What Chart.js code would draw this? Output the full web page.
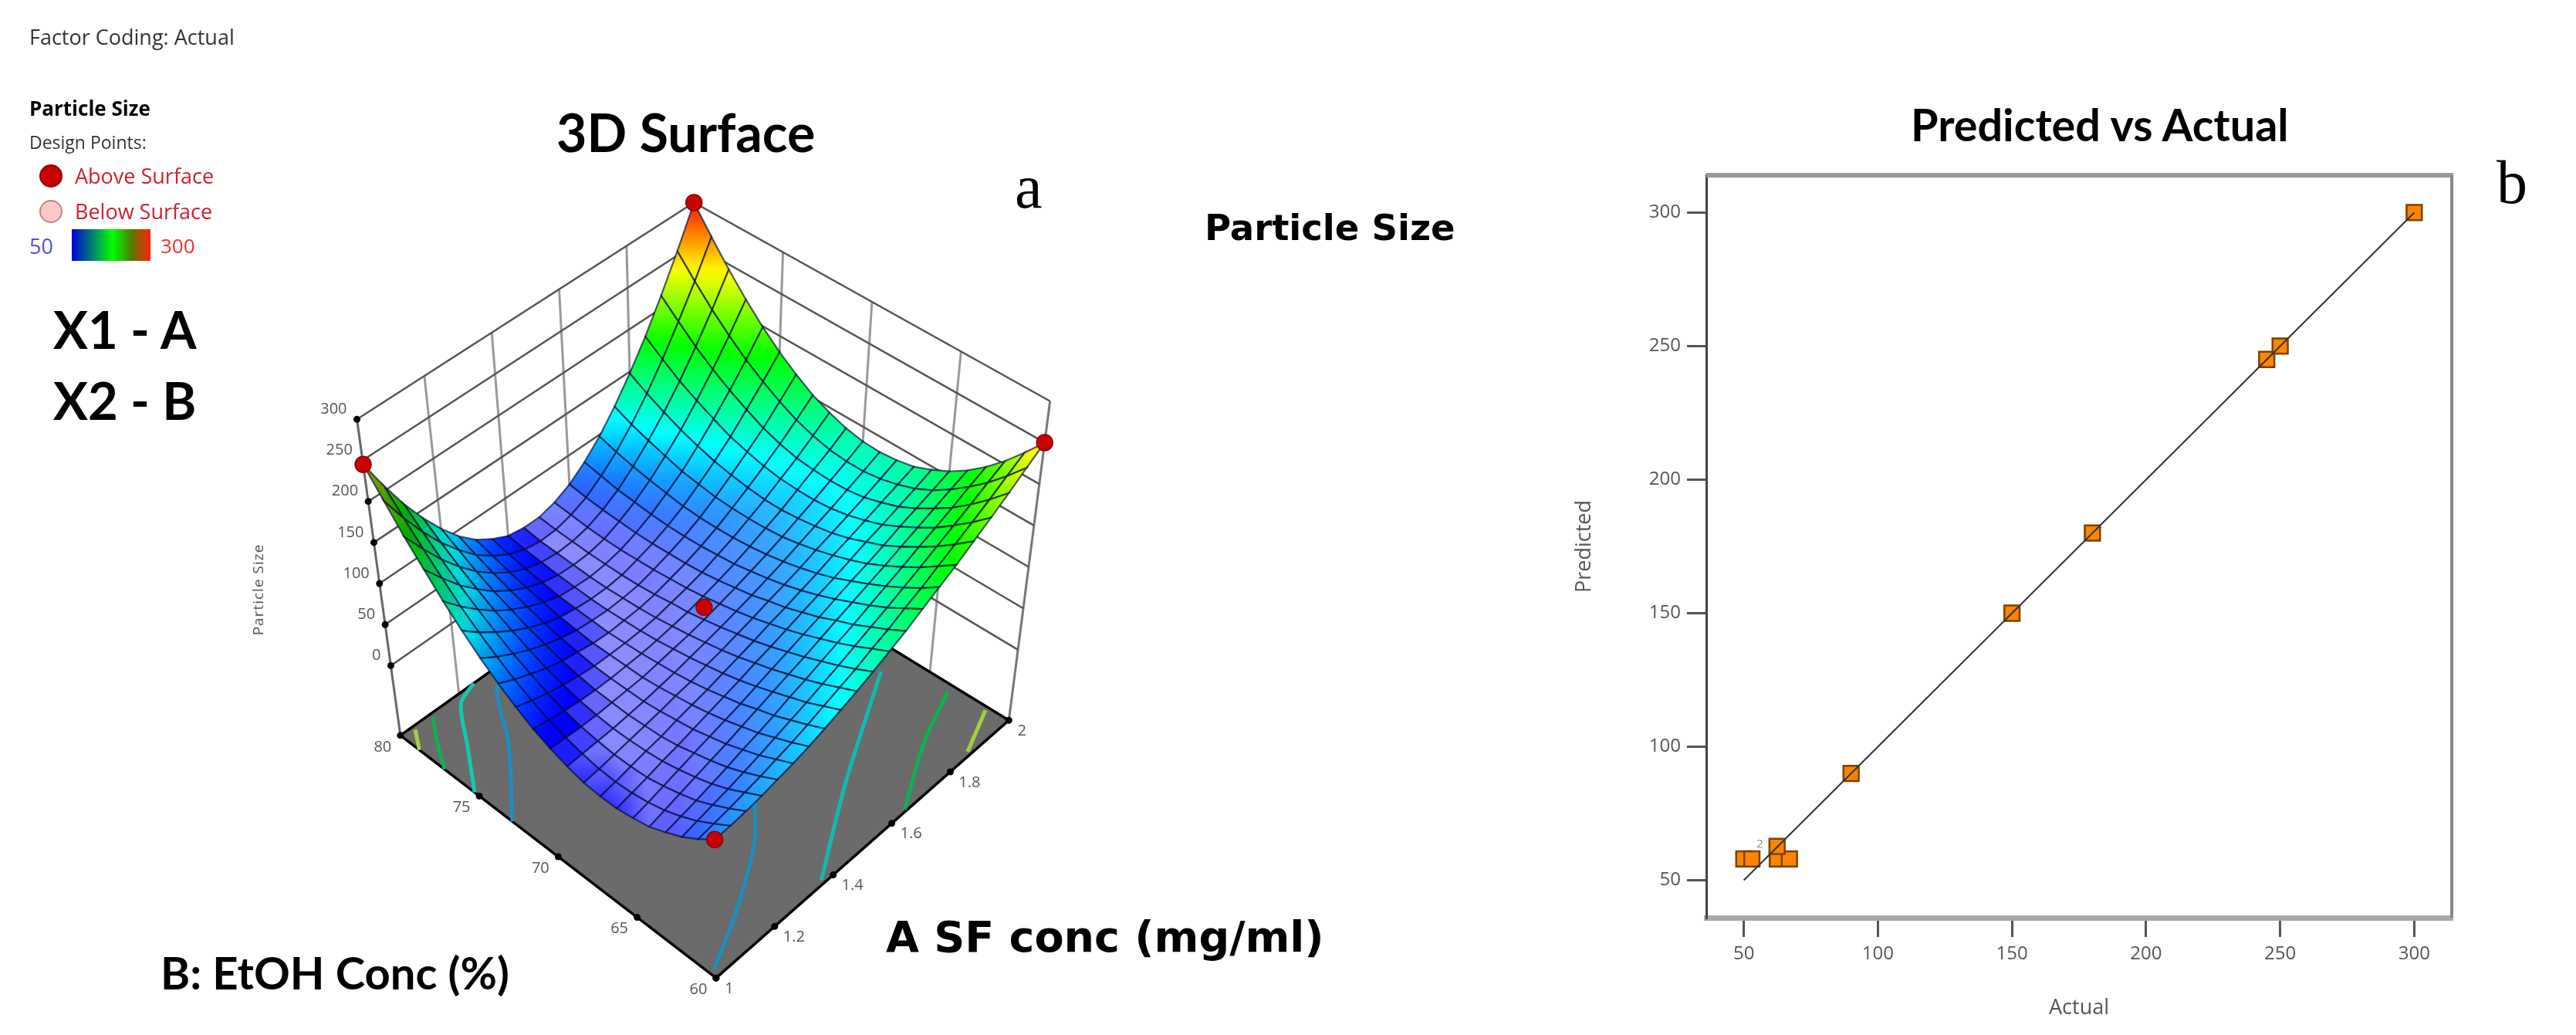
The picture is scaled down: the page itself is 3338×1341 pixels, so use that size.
<!DOCTYPE html>
<html>
<head>
<meta charset="utf-8">
<title>Particle Size</title>
<script src="https://cdn.jsdelivr.net/npm/chart.js"></script>
<style>
html, body { margin: 0; padding: 0; background: #fff; }
body { position: relative; width: 3338px; height: 1341px; overflow: hidden; }
canvas { position: absolute; }
.t { position: absolute; line-height: 1; white-space: nowrap; color: #000; }
.small { font-family: "Open Sans", sans-serif; font-size: 24px; color: #333; }
.big { font-family: Lato, sans-serif; font-weight: 700; }
.wide { font-family: "DejaVu Sans", sans-serif; font-weight: 700; }
.serif { font-family: "Liberation Serif", serif; font-size: 80px; }
.dot { position: absolute; width: 30px; height: 30px; border-radius: 50%; box-sizing: border-box; }
</style>
</head>
<body>
<canvas id="surfaceChart" width="2000" height="1341" style="left:0;top:0;width:2000px;height:1341px"></canvas>
<canvas id="parityChart" width="1200" height="1130" style="left:2030px;top:200px;width:1200px;height:1130px"></canvas>

<div class="t small" style="left:38px;top:34px;font-size:27px">Factor Coding: Actual</div>
<div class="t small" style="left:38px;top:127px;font-size:26px;font-weight:700;color:#000">Particle Size</div>
<div class="t small" style="left:38px;top:173px;font-size:23px">Design Points:</div>
<div class="dot" style="left:51px;top:213px;background:#c80000;border:2px solid #900"></div>
<div class="t small" style="left:97px;top:214px;font-size:27px;color:#d02030">Above Surface</div>
<div class="dot" style="left:51px;top:259px;background:#ffc8c8;border:2px solid #b88"></div>
<div class="t small" style="left:97px;top:260px;font-size:27px;color:#d02030">Below Surface</div>
<div class="t small" style="left:38px;top:305px;font-size:27px;color:#5050e0">50</div>
<div style="position:absolute;left:93px;top:297px;width:102px;height:41px;background:linear-gradient(to right,#0000e0,#00ff00 52%,#508000 75%,#ff2000)"></div>
<div class="t small" style="left:208px;top:305px;font-size:26px;color:#f03030">300</div>

<div class="t big" style="left:721px;top:137px;font-size:68px">3D Surface</div>
<div class="t serif" style="left:1315px;top:202px">a</div>
<div class="t wide" style="left:1561px;top:272px;font-size:46.5px">Particle Size</div>
<div class="t big" style="left:69px;top:393px;font-size:67px">X1 - A</div>
<div class="t big" style="left:69px;top:485px;font-size:67px">X2 - B</div>
<div class="t big" style="left:208px;top:1231px;font-size:58px">B: EtOH Conc (%)</div>
<div class="t wide" style="left:1148px;top:1186px;font-size:55.5px">A SF conc (mg/ml)</div>

<div class="t big" style="left:2476px;top:132px;font-size:57.5px">Predicted vs Actual</div>
<div class="t serif" style="left:3235px;top:196px">b</div>
<div class="t small" style="left:2276px;top:1085px;font-size:15px;color:#888">2</div>

<script>
Chart.defaults.devicePixelRatio = 1;

// ---- data of panel a ----
var factorA = [1, 1.05, 1.1, 1.15, 1.2, 1.25, 1.3, 1.35, 1.4, 1.45, 1.5, 1.55, 1.6, 1.65, 1.7, 1.75, 1.8, 1.85, 1.9, 1.95, 2];
var factorB = [60, 61, 62, 63, 64, 65, 66, 67, 68, 69, 70, 71, 72, 73, 74, 75, 76, 77, 78, 79, 80];

// one row per B value, one column per A value
var sizeGrid = [
    [82, 83, 85, 88, 92, 96, 101, 107, 114, 121, 129, 138, 147, 158, 169, 180, 193, 206, 220, 235, 250],
    [68, 71, 74, 78, 82, 87, 92, 98, 105, 112, 119, 128, 136, 146, 155, 166, 177, 188, 200, 213, 226],
    [56, 60, 64, 68, 73, 78, 84, 90, 96, 103, 110, 118, 126, 134, 143, 152, 162, 172, 182, 193, 204],
    [47, 51, 55, 60, 65, 71, 76, 82, 89, 95, 102, 109, 116, 124, 132, 140, 149, 157, 166, 176, 185],
    [39, 44, 49, 54, 59, 64, 70, 76, 82, 88, 94, 101, 108, 115, 122, 129, 137, 145, 153, 161, 169],
    [35, 39, 44, 49, 54, 59, 64, 69, 75, 81, 87, 93, 99, 106, 113, 119, 126, 134, 141, 148, 156],
    [32, 36, 40, 45, 49, 54, 59, 64, 69, 75, 80, 86, 92, 98, 104, 111, 118, 124, 131, 138, 146],
    [32, 35, 39, 43, 46, 51, 55, 59, 64, 69, 74, 80, 85, 91, 97, 104, 110, 117, 124, 131, 138],
    [34, 36, 39, 42, 45, 48, 52, 55, 60, 64, 69, 74, 80, 85, 91, 98, 104, 111, 118, 126, 134],
    [39, 40, 41, 42, 44, 46, 49, 52, 56, 60, 64, 69, 74, 80, 86, 93, 100, 107, 115, 123, 132],
    [46, 45, 44, 44, 45, 46, 47, 50, 53, 56, 60, 65, 70, 76, 82, 89, 97, 105, 114, 123, 133],
    [55, 52, 49, 47, 46, 46, 47, 48, 50, 53, 56, 61, 66, 72, 79, 87, 95, 105, 115, 125, 137],
    [67, 61, 56, 52, 49, 47, 47, 47, 48, 50, 54, 58, 63, 70, 77, 86, 95, 106, 117, 130, 144],
    [81, 72, 65, 58, 53, 50, 47, 46, 47, 48, 51, 56, 61, 68, 76, 86, 97, 109, 122, 137, 153],
    [97, 85, 75, 66, 59, 53, 49, 47, 46, 47, 49, 54, 60, 67, 76, 87, 100, 114, 129, 147, 166],
    [116, 100, 87, 75, 65, 57, 51, 48, 46, 46, 48, 53, 59, 67, 77, 90, 104, 120, 139, 159, 181],
    [137, 117, 100, 85, 73, 63, 55, 49, 47, 46, 48, 52, 59, 68, 80, 93, 110, 129, 150, 173, 199],
    [161, 137, 115, 97, 81, 69, 59, 52, 48, 47, 48, 52, 60, 70, 83, 99, 117, 139, 163, 190, 220],
    [186, 158, 132, 110, 91, 76, 64, 55, 50, 48, 49, 53, 61, 72, 87, 105, 126, 150, 178, 209, 244],
    [215, 181, 151, 125, 103, 84, 70, 59, 52, 49, 50, 55, 63, 76, 92, 112, 136, 164, 196, 231, 271],
    [245, 206, 171, 141, 115, 93, 76, 64, 55, 52, 52, 57, 66, 80, 98, 121, 148, 179, 215, 255, 300]
];

var designA = [1, 2, 1, 2, 1.5];
var designB = [60, 60, 80, 80, 70];
var designSize = [82, 250, 245, 300, 75];

var zTicks = [0, 50, 100, 150, 200, 250, 300];
var aTicks = [1, 1.2, 1.4, 1.6, 1.8, 2];
var bTicks = [60, 65, 70, 75, 80];

// contour lines on the floor: A, B pairs and colour
var contourA = [
    [1, 1.17, 1.27, 1.36],
    [1, 1.09, 1.18, 1.25],
    [1, 1.05, 1.1],
    [1, 1.04],
    [1.015, 1.19, 1.365, 1.5],
    [1.37, 1.62, 1.93],
    [1.65, 1.82, 1.98],
    [1.87, 1.99]
];
var contourB = [
    [72.9, 76.3, 78.9, 80],
    [75.3, 77.4, 79.5, 80],
    [77.2, 78.6, 79.8],
    [78.8, 79.8],
    [60.4, 62.1, 64.3, 67],
    [60.2, 63.3, 66.8],
    [60.1, 62.1, 63.5],
    [60.2, 61.3]
];
var contourColors = ['#1f8fc0', '#12c8b0', '#10b050', '#a0d040', '#1f8fc0', '#12b8b0', '#10b050', '#a0d040'];

// colour ramp of the surface, 50 blue to 300 red
var rampLevels = [50, 112, 175, 237, 300];
var rampColors = [[0, 0, 255], [0, 255, 255], [0, 255, 0], [255, 255, 0], [255, 0, 0]];

// ---- data of panel b ----
var actualValues = [50, 53, 62.5, 67, 62.4, 90, 150, 180, 245, 250, 300];
var predictedValues = [58, 58, 58, 58, 62.7, 90, 150, 180, 245, 250, 300];
var fitX = [50, 300];
var fitY = [50, 300];
var actualTicks = [50, 100, 150, 200, 250, 300];
var predictedTicks = [50, 100, 150, 200, 250, 300];

// ---- camera of panel a: where the corners of the box land on the page ----
var floorZ = -85;
var floorCorners = [[927, 1278], [1311, 938], [513, 958], [897, 683]];
var topCorners = [[923, 857], [1365, 517], [456, 541], [898, 255]];

function bilinear(c, u, v) {
    return [
        c[0][0] * (1 - u) * (1 - v) + c[1][0] * u * (1 - v) + c[2][0] * (1 - u) * v + c[3][0] * u * v,
        c[0][1] * (1 - u) * (1 - v) + c[1][1] * u * (1 - v) + c[2][1] * (1 - u) * v + c[3][1] * u * v
    ];
}

function project(a, b, z) {
    var u = a - 1;
    var v = (b - 60) / 20;
    var f = bilinear(floorCorners, u, v);
    var t = bilinear(topCorners, u, v);
    var k = (z - floorZ) / (300 - floorZ);
    return { x: f[0] + (t[0] - f[0]) * k, y: f[1] + (t[1] - f[1]) * k };
}

function clamp01(v) {
    return Math.max(0, Math.min(1, v));
}

function rampColor(z, white, dark) {
    var i = 0;
    var zz = Math.max(50, Math.min(300, z));
    while (i < rampLevels.length - 2 && zz > rampLevels[i + 1]) i++;
    var k = (zz - rampLevels[i]) / (rampLevels[i + 1] - rampLevels[i]);
    // highlight only on the low flat part, none in the valley
    var w = white * clamp01(1.1 - (z - 50) / 60) * clamp01((z - 28) / 12);
    var rgb = [0, 1, 2].map(function (n) {
        var c = rampColors[i][n] + (rampColors[i + 1][n] - rampColors[i][n]) * k;
        c = c + (255 - c) * w;
        return Math.round(c * dark);
    });
    return 'rgb(' + rgb.join(',') + ')';
}

var surfaceCtx = document.getElementById('surfaceChart').getContext('2d');

function cellFill(i, j) {
    var zs = [sizeGrid[j][i], sizeGrid[j][i + 1], sizeGrid[j + 1][i + 1], sizeGrid[j + 1][i]];
    var dzA = (zs[1] - zs[0] + zs[2] - zs[3]) / 2;
    var dzB = (zs[3] - zs[0] + zs[2] - zs[1]) / 2;
    var slope = Math.sqrt(dzA * dzA + dzB * dzB);
    var d = dzA - dzB;
    var white = 0.55 * Math.exp(-(slope / 14) * (slope / 14)) * clamp01(1 + d / 8);
    var dark = Math.max(0.45, 1 + 0.009 * Math.min(0, d + 20));
    var lo = 0, hi = 0;
    var corners = [[i, j], [i + 1, j], [i + 1, j + 1], [i, j + 1]];
    for (var n = 1; n < 4; n++) {
        if (zs[n] < zs[lo]) lo = n;
        if (zs[n] > zs[hi]) hi = n;
    }
    var p0 = project(factorA[corners[lo][0]], factorB[corners[lo][1]], zs[lo]);
    var p1 = project(factorA[corners[hi][0]], factorB[corners[hi][1]], zs[hi]);
    var grad = surfaceCtx.createLinearGradient(p0.x, p0.y, p1.x, p1.y);
    for (var s = 0; s <= 6; s++) {
        grad.addColorStop(s / 6, rampColor(zs[lo] + (zs[hi] - zs[lo]) * s / 6, white, dark));
    }
    return grad;
}

function lineSet(points, color, width, extra) {
    var ds = { data: points, showLine: true, borderColor: color, borderWidth: width, pointRadius: 0, fill: false };
    for (var key in extra) ds[key] = extra[key];
    return ds;
}

// the first dataset in the list is painted last
var surfaceSets = [];

surfaceSets.push({
    data: designA.map(function (a, n) { return project(a, designB[n], designSize[n]); }),
    pointRadius: 10.5, pointBackgroundColor: '#c80000', pointBorderColor: '#8a0000', pointBorderWidth: 1.5
});

// mesh cells, nearest to the viewer first
for (var sum = 0; sum <= 38; sum++) {
    for (var j = 0; j < factorB.length - 1; j++) {
        var i = sum - j;
        if (i < 0 || i >= factorA.length - 1) continue;
        surfaceSets.push(lineSet([
            project(factorA[i], factorB[j], sizeGrid[j][i]),
            project(factorA[i + 1], factorB[j], sizeGrid[j][i + 1]),
            project(factorA[i + 1], factorB[j + 1], sizeGrid[j + 1][i + 1]),
            project(factorA[i], factorB[j + 1], sizeGrid[j + 1][i]),
            project(factorA[i], factorB[j], sizeGrid[j][i])
        ], 'rgba(0,10,50,0.66)', 2.2, { fill: 'shape', backgroundColor: cellFill(i, j) }));
    }
}

// tick dots on the box edges
var dotPoints = [];
zTicks.forEach(function (z) { dotPoints.push(project(1, 80, z)); });
bTicks.forEach(function (b) { dotPoints.push(project(1, b, floorZ)); });
aTicks.forEach(function (a) { dotPoints.push(project(a, 60, floorZ)); });
surfaceSets.push({ data: dotPoints, pointRadius: 4.5, pointBackgroundColor: '#000', pointBorderWidth: 0 });

contourA.forEach(function (list, n) {
    surfaceSets.push(lineSet(list.map(function (a, m) {
        return project(a, contourB[n][m], floorZ);
    }), contourColors[n], 5, { tension: 0.3 }));
});

// floor
surfaceSets.push(lineSet([
    project(1, 60, floorZ), project(2, 60, floorZ), project(2, 80, floorZ), project(1, 80, floorZ), project(1, 60, floorZ)
], '#000', 3.5, { fill: 'shape', backgroundColor: '#6b6b6b' }));

// back walls
zTicks.forEach(function (z) {
    surfaceSets.push(lineSet([project(1, 80, z), project(2, 80, z), project(2, 60, z)], '#555', 2.5));
});
aTicks.forEach(function (a) {
    surfaceSets.push(lineSet([project(a, 80, floorZ), project(a, 80, 300)], a === 1 ? '#666' : '#999', 3));
});
bTicks.forEach(function (b) {
    surfaceSets.push(lineSet([project(2, b, floorZ), project(2, b, 300)], b === 60 ? '#777' : '#999', 3));
});

// tick texts of the 3D axes, placed from the same projection
var axisText3d = {
    id: 'axisText3d',
    afterDatasetsDraw: function (chart) {
        var ctx = chart.ctx;
        var sx = chart.scales.x, sy = chart.scales.y;
        ctx.save();
        ctx.font = '20px "Open Sans", sans-serif';
        ctx.fillStyle = '#555';
        ctx.textBaseline = 'middle';
        ctx.textAlign = 'right';
        zTicks.forEach(function (z) {
            var p = project(1, 80, z);
            ctx.fillText(String(z), sx.getPixelForValue(p.x) - 13, sy.getPixelForValue(p.y) - 13);
        });
        ctx.textAlign = 'center';
        bTicks.forEach(function (b) {
            var p = project(1, b, floorZ);
            ctx.fillText(String(b), sx.getPixelForValue(p.x) - 23, sy.getPixelForValue(p.y) + 15);
        });
        aTicks.forEach(function (a) {
            var p = project(a, 60, floorZ);
            ctx.fillText(String(a), sx.getPixelForValue(p.x) + (a === 1 || a === 2 ? 17 : 25), sy.getPixelForValue(p.y) + 14);
        });
        ctx.translate(336, 764);
        ctx.rotate(-Math.PI / 2);
        ctx.font = '19px "Open Sans", sans-serif';
        ctx.letterSpacing = '1px';
        ctx.fillText('Particle Size', 0, 0);
        ctx.restore();
    }
};

var surfaceChart = new Chart(surfaceCtx, {
    type: 'scatter',
    data: { datasets: surfaceSets },
    options: {
        responsive: false,
        animation: false,
        events: [],
        layout: { padding: 0 },
        plugins: { legend: { display: false }, tooltip: { enabled: false } },
        scales: {
            x: { type: 'linear', display: false, min: 0, max: 2000 },
            y: { type: 'linear', display: false, min: 0, max: 1341, reverse: true }
        }
    },
    plugins: [axisText3d]
});

// ---- panel b ----
var plotFrame = {
    id: 'plotFrame',
    afterDraw: function (chart) {
        var a = chart.chartArea, ctx = chart.ctx;
        ctx.save();
        ctx.strokeStyle = '#999';
        ctx.lineWidth = 6;
        ctx.beginPath();
        ctx.moveTo(a.left, a.top);
        ctx.lineTo(a.right + 2, a.top);
        ctx.stroke();
        ctx.strokeStyle = '#888';
        ctx.lineWidth = 4;
        ctx.beginPath();
        ctx.moveTo(a.right, a.top);
        ctx.lineTo(a.right, a.bottom);
        ctx.stroke();
        ctx.restore();
    }
};

var parityChart = new Chart(document.getElementById('parityChart').getContext('2d'), {
    type: 'scatter',
    data: {
        datasets: [{
            data: fitX.map(function (x, n) { return { x: x, y: fitY[n] }; }),
            showLine: true,
            borderColor: '#333',
            borderWidth: 2,
            pointRadius: 0
        }, {
            data: actualValues.map(function (x, n) { return { x: x, y: predictedValues[n] }; }),
            pointStyle: 'rect',
            pointRadius: 14,
            pointBackgroundColor: '#ff8400',
            pointBorderColor: '#7a4200',
            pointBorderWidth: 2.5
        }]
    },
    options: {
        responsive: false,
        animation: false,
        events: [],
        layout: { padding: { top: 27, right: 53 } },
        plugins: { legend: { display: false }, tooltip: { enabled: false } },
        scales: {
            x: {
                type: 'linear', min: 36, max: 314,
                afterBuildTicks: function (s) { s.ticks = actualTicks.map(function (v) { return { value: v }; }); },
                afterFit: function (s) { s.height = 141; },
                grid: { drawOnChartArea: false, tickLength: 25, color: '#555', lineWidth: 3 },
                border: { color: '#aaa', width: 7 },
                ticks: { font: { family: '"Open Sans"', size: 24 }, color: '#555', padding: 8, maxRotation: 0, autoSkip: false },
                title: { display: true, text: 'Actual', font: { family: '"Open Sans"', size: 27 }, color: '#555', padding: { top: 7, bottom: 7 } }
            },
            y: {
                type: 'linear', min: 36, max: 314,
                afterBuildTicks: function (s) { s.ticks = predictedTicks.map(function (v) { return { value: v }; }); },
                afterFit: function (s) { s.width = 181; },
                grid: { drawOnChartArea: false, tickLength: 25, color: '#555', lineWidth: 3 },
                border: { color: '#444', width: 3 },
                ticks: { font: { family: '"Open Sans"', size: 24 }, color: '#555', padding: 8, autoSkip: false },
                title: { display: true, text: 'Predicted', font: { family: '"Open Sans"', size: 27 }, color: '#555', padding: { top: 7, bottom: 7 } }
            }
        }
    },
    plugins: [plotFrame]
});
</script>
</body>
</html>
